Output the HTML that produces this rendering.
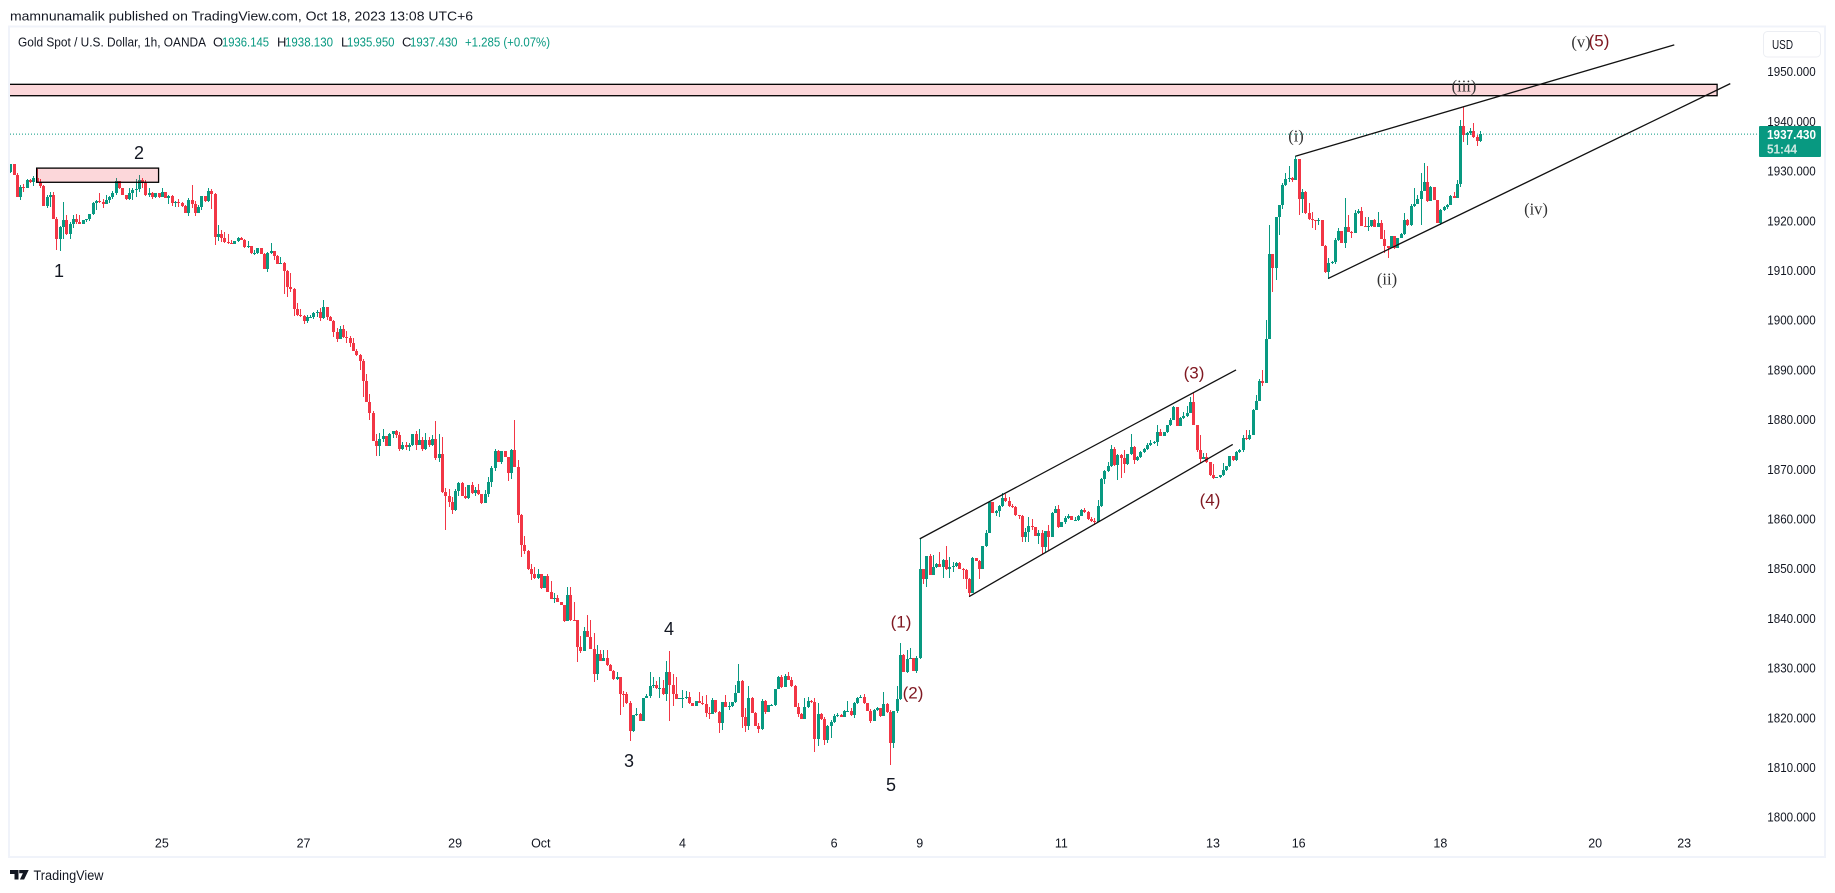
<!DOCTYPE html>
<html lang="en">
<head>
<meta charset="utf-8">
<title>Gold Spot / U.S. Dollar, 1h, OANDA</title>
<style>
html,body{margin:0;padding:0;background:#fff;width:1835px;height:893px;overflow:hidden}
svg{display:block;position:absolute;left:0;top:0}
text{font-family:"Liberation Sans",sans-serif;fill:#131722}
.wave{font-size:18px;text-anchor:middle;dominant-baseline:central;fill:#131722}
.red-wave{font-size:17px;text-anchor:middle;dominant-baseline:central;fill:#801922;font-family:"Liberation Sans",sans-serif}
.roman{font-size:16.5px;text-anchor:middle;dominant-baseline:central;fill:#333;font-family:"Liberation Serif",serif}
.legend{font-size:13px;dominant-baseline:central}
.up{fill:#089981}
</style>
</head>
<body>
<svg id="chart" xmlns="http://www.w3.org/2000/svg" width="1835" height="893" viewBox="0 0 1835 893">
  <defs>
    <clipPath id="pane"><rect x="10" y="27" width="1748" height="830"/></clipPath>
  </defs>
  <text x="10" y="16" font-size="13" dominant-baseline="central" textLength="463" lengthAdjust="spacingAndGlyphs" fill="#131722">mamnunamalik published on TradingView.com, Oct 18, 2023 13:08 UTC+6</text>
  <rect x="9" y="26.5" width="1816" height="830.5" fill="none" stroke="#f0f3fa" stroke-width="2"/>

  <line id="priceLine" x1="10" x2="1759" stroke="#089981" stroke-width="1" stroke-dasharray="1 2"/>
  <g id="candles" shape-rendering="crispEdges" clip-path="url(#pane)"></g>
  <g id="drawings" clip-path="url(#pane)"></g>

  <g>
    <text class="legend" x="18" y="42" textLength="188" lengthAdjust="spacingAndGlyphs">Gold Spot / U.S. Dollar, 1h, OANDA</text>
    <text class="legend" x="213" y="42">O</text>
    <text class="legend up" x="222" y="42" textLength="47" lengthAdjust="spacingAndGlyphs">1936.145</text>
    <text class="legend" x="277" y="42">H</text>
    <text class="legend up" x="285" y="42" textLength="48" lengthAdjust="spacingAndGlyphs">1938.130</text>
    <text class="legend" x="341" y="42">L</text>
    <text class="legend up" x="347" y="42" textLength="47.5" lengthAdjust="spacingAndGlyphs">1935.950</text>
    <text class="legend" x="402" y="42">C</text>
    <text class="legend up" x="410" y="42" textLength="47.5" lengthAdjust="spacingAndGlyphs">1937.430</text>
    <text class="legend up" x="465" y="42" textLength="85" lengthAdjust="spacingAndGlyphs">+1.285 (+0.07%)</text>
  </g>

  <g>
    <text class="wave" x="59" y="271">1</text>
    <text class="wave" x="139" y="153">2</text>
    <text class="wave" x="629" y="761">3</text>
    <text class="wave" x="669" y="629">4</text>
    <text class="wave" x="891" y="785">5</text>
    <text class="red-wave" x="901" y="622">(1)</text>
    <text class="red-wave" x="913" y="693">(2)</text>
    <text class="red-wave" x="1194" y="373">(3)</text>
    <text class="red-wave" x="1210" y="500">(4)</text>
    <text class="red-wave" x="1599" y="41">(5)</text>
    <text class="roman" x="1296" y="136">(i)</text>
    <text class="roman" x="1387" y="279">(ii)</text>
    <text class="roman" x="1464" y="86">(iii)</text>
    <text class="roman" x="1536" y="209">(iv)</text>
    <text class="roman" x="1581" y="42">(v)</text>
  </g>

  <g id="priceAxis"></g>
  <g id="timeAxis"></g>

  <g>
    <rect x="1763.5" y="31.5" width="57" height="25.5" rx="4" fill="#fff" stroke="#eceef3" stroke-width="1"/>
    <text x="1772" y="44.5" font-size="13" dominant-baseline="central" textLength="21" lengthAdjust="spacingAndGlyphs">USD</text>
  </g>
  <g>
    <rect x="1759" y="126" width="62" height="31" rx="1" fill="#089981"/>
    <text x="1767" y="134.5" font-size="13" font-weight="bold" dominant-baseline="central" textLength="49" lengthAdjust="spacingAndGlyphs" style="fill:#fff">1937.430</text>
    <text x="1767" y="149" font-size="13" font-weight="bold" dominant-baseline="central" textLength="30" lengthAdjust="spacingAndGlyphs" style="fill:#cfe9e3">51:44</text>
  </g>

  <g>
    <path d="M10 870h8.5v9.5h-4v-5.5h-4.5zM19.2 870h9.5l-4.6 9.5h-4.2l3-6.2h-3.7z" fill="#131722"/>
    <text x="33.5" y="875.5" font-size="13.5" dominant-baseline="central" textLength="70" lengthAdjust="spacingAndGlyphs" fill="#333">TradingView</text>
  </g>
</svg>
<script>
const firstOpen = 1929.9;
const closes = [
1931.5,1929.2,1924.8,1926.8,1926.7,1928.3,1927.8,1928.7,1927.9,1927.0,
1923.0,1924.8,1925.1,1920.4,1916.3,1918.8,1920.1,1917.3,1919.4,1920.4,
1919.8,1919.4,1920.1,1920.3,1921.3,1923.6,1923.9,1923.7,1923.4,1924.1,
1924.7,1925.6,1928,1926.6,1925.1,1924.3,1925.5,1926.1,1926.3,1928.2,
1927.7,1925.1,1925.5,1924.8,1925.5,1924.8,1925.8,1924.6,1925,1923.6,
1923.8,1923.6,1922.9,1921.6,1924.1,1923.3,1921.6,1922.7,1925,1924,
1926,1925.3,1916.8,1917.4,1916.6,1915.8,1915.6,1915.3,1915.9,1916.6,
1916.2,1914.7,1914.9,1913.5,1913.5,1914.6,1913.4,1910.3,1913.5,1913.9,
1912.9,1911.4,1911.6,1910,1906.7,1906.3,1902.2,1901,1900.8,1899.8,
1900.6,1900.7,1901.5,1901.6,1900.5,1902.7,1900.7,1899.8,1897.7,1896.2,
1898.2,1896.7,1896.4,1895.5,1893.9,1892.9,1891.7,1887.8,1883.6,1881.4,
1875.7,1874.7,1876,1876.7,1874.7,1877.1,1877.7,1876.9,1874.1,1874.9,
1874.5,1874.9,1877.1,1874.9,1875.9,1874.1,1875.9,1874.9,1876.1,1872.3,
1873.1,1865.4,1864.7,1863.5,1861.8,1865.6,1867.2,1864.7,1864.3,1866.8,
1865.2,1865.8,1865,1863.3,1865,1867.4,1870.3,1873.6,1871.5,1873.6,
1872.4,1869.3,1873.9,1870.5,1860.8,1854.8,1853.6,1849.9,1848.9,1848.2,
1848.9,1846.1,1848.5,1845.4,1844,1844.2,1843.4,1842.6,1839.5,1844.7,
1839.7,1839.6,1834.2,1833.5,1837.5,1836.3,1833.9,1828.8,1832.8,1831.5,
1832,1830.6,1829.5,1827.8,1828.3,1824.8,1824.7,1822.9,1817.4,1820.5,
1820.8,1819.3,1824,1824.4,1826.4,1826.5,1825.9,1825.9,1824.7,1829.2,
1826.6,1824.8,1823.8,1823.9,1824,1824.2,1822.9,1822.4,1823.4,1823,
1822.7,1820.9,1820.8,1823.6,1821.2,1819,1823.1,1822.2,1822.3,1823.1,
1825,1827.4,1820.2,1818.4,1823.9,1821,1818.4,1817.7,1823.4,1821.2,
1822.6,1822.6,1825.8,1828.2,1826.1,1828.4,1827.7,1826.3,1822.2,1820.8,
1819.7,1822.1,1823.4,1823.1,1815.7,1820.8,1819.7,1815.5,1818.3,1819.1,
1820.3,1820.5,1820.2,1821.4,1821.4,1820.5,1822.9,1823.9,1824.2,1822.9,
1821.4,1819.3,1821.6,1821.9,1820.3,1822.8,1821.1,1815,1821.4,1823.7,
1832.6,1829.3,1831.8,1832,1829.5,1832,1849.9,1848,1852.5,1848.7,
1850.4,1851,1850.4,1851.8,1850,1850.4,1850.5,1851.2,1850,1849.8,
1848,1845.2,1852.2,1851.6,1850,1854.5,1857.1,1863.5,1861.2,1861.6,
1862.7,1864.3,1863.6,1862.7,1862.4,1860.8,1860.6,1856.4,1857.4,1858.6,
1858.3,1856.6,1857.2,1854.4,1857.6,1856.3,1861.3,1862.1,1858.4,1859.3,
1860.2,1860.6,1859.8,1859.8,1860.7,1861.8,1861.4,1859.9,1859.6,1859.4,
1862.6,1868,1869.6,1870.7,1874.1,1870.8,1872.9,1872.2,1871,1873,
1874.5,1871.8,1872.5,1873.5,1874,1874.9,1875.3,1875.5,1877.5,1876.7,
1877.5,1878.9,1880,1882.6,1878.8,1880.4,1880.8,1881.4,1883.5,1879,
1873.9,1872,1872.4,1871.4,1868.8,1868.3,1868.4,1868.8,1869.8,1870.6,
1872.6,1871.8,1873.5,1873.9,1876.2,1876,1877,1882,1883.8,1887.7,
1887.4,1896.3,1913.3,1910.6,1920.8,1923.1,1927.2,1928.4,1928.7,1928.2,
1932.4,1924.3,1925.7,1921.5,1920.3,1920.1,1920,1920.2,1915,1909.6,
1911.5,1911.7,1916.2,1918,1915.6,1918.8,1917.8,1917.6,1921.5,1922,
1919,1918.8,1918.9,1920.2,1918.8,1919.6,1916.4,1914.9,1914.5,1917,
1914.5,1916.6,1917.4,1920.2,1919.2,1923,1923.4,1924.3,1926,1927.9,
1923.9,1926.9,1924.2,1919.6,1922.2,1922.7,1923.2,1925,1924.6,1927.4,
1939,1937.2,1937.7,1938,1936.8,1936.1,1937.43];
const highs = [
1931.5,1931.3,1929.7,1927.2,1927.5,1928.4,1928.5,1929,1930.5,1928.4,
1927.2,1925.1,1925.8,1925.8,1920.8,1918.9,1923.8,1921.1,1919.8,1921.1,
1921.3,1921.1,1920.2,1920.4,1921.4,1923.8,1924.1,1925.6,1924.3,1925.1,
1925,1926,1928.7,1928,1926.7,1925.2,1926.7,1926.6,1928.4,1929.2,
1928.7,1928.2,1926.5,1925.8,1925.6,1925.5,1926.5,1925.8,1925.2,1925.2,
1924,1924.4,1923.7,1923.1,1924.6,1927.2,1924,1923.2,1925,1925,
1926.7,1926.4,1925.5,1919.1,1918.2,1917.8,1917.3,1916.2,1916,1916.7,
1916.7,1916.4,1915.9,1915,1914.2,1914.6,1914.6,1913.5,1913.8,1915.6,
1913.9,1913.2,1912.7,1911.7,1910.2,1909.4,1906.4,1903.5,1902.3,1901,
1901,1901,1901.6,1902,1902.4,1904.1,1902.7,1900.9,1900,1898.4,
1898.8,1899,1897.8,1896.8,1896.4,1894.2,1893.2,1892.2,1889.2,1885.2,
1881.7,1877.2,1877.4,1878.2,1876.8,1877.4,1877.7,1877.9,1877.5,1875.4,
1875.4,1875.2,1877.2,1877.7,1878.2,1876.4,1877.4,1876.4,1876.9,1879.8,
1877.2,1876.5,1866.2,1866,1864.4,1866,1867.4,1867.4,1866.5,1866.8,
1867.4,1866.4,1867,1865,1865.8,1868.5,1870.7,1874.1,1873.9,1873.7,
1873.6,1872.5,1874.1,1879.9,1871.9,1861.1,1856.6,1853.7,1851,1850.3,
1849.9,1848.9,1848.5,1849,1847.6,1845.2,1844.7,1843.4,1842.7,1846.3,
1846.3,1843.4,1839.7,1836.5,1838.3,1840.7,1839.7,1837,1834.6,1833.6,
1833.6,1833.6,1830.8,1829.6,1829.3,1828.1,1825.4,1825.2,1823.3,1820.5,
1821.9,1821,1824,1824.7,1829.3,1828.3,1827.5,1828.3,1827.6,1831.4,
1833.5,1828.8,1828.3,1824,1825.6,1825.4,1825.2,1823,1823.4,1825.2,
1824.4,1824.6,1822.2,1823.9,1823.6,1821.4,1823.2,1824.6,1823.2,1823.2,
1826.6,1830.8,1827.6,1821.9,1826.4,1824.1,1821.2,1818.9,1823.7,1823.6,
1822.6,1822.7,1825.8,1828.4,1828.6,1828.8,1829.2,1828.3,1826.7,1822.9,
1820.9,1823.9,1824.2,1823.6,1823.9,1823,1821,1820.2,1818.5,1819.5,
1820.8,1820.9,1820.7,1821.6,1823.4,1821.9,1823.2,1824.2,1824.6,1824.8,
1823,1821.7,1821.8,1822.2,1822,1825.2,1822.9,1821.6,1821.4,1826.3,
1835,1832.8,1833.6,1834,1832,1832.4,1856,1849.9,1852.5,1852.9,
1852.7,1851.2,1853.4,1852,1854.6,1852.4,1851.4,1851.3,1851.3,1850.2,
1850,1848.1,1852.4,1852.1,1851.8,1854.5,1857.8,1863.5,1863.5,1861.8,
1862.8,1865.3,1865.1,1864.5,1863,1862.6,1860.9,1860.8,1858.1,1860.4,
1860.1,1858.4,1857.8,1857.8,1857.6,1858.8,1861.4,1862.6,1862.8,1859.4,
1860.6,1861,1860.7,1860.5,1860.8,1862.1,1862.3,1861.6,1860.4,1860.2,
1863.9,1868.2,1869.8,1871.5,1874.9,1874.5,1873,1873,1873.9,1873.1,
1877.2,1874.7,1872.6,1873.6,1874.2,1875.2,1875.9,1875.7,1878.9,1878.2,
1877.6,1879,1880.3,1882.7,1882.6,1880.6,1881.6,1882.7,1884.5,1885.3,
1879,1876.9,1873.3,1873.2,1871.5,1871,1868.5,1868.9,1871.2,1870.7,
1872.7,1872.7,1873.6,1874.1,1876.9,1878,1878,1882.1,1884.9,1888.1,
1890,1900,1919.1,1913.3,1920.8,1923.1,1927.6,1929.7,1931,1928.9,
1933,1932.4,1926.4,1926,1923.5,1921.8,1920.2,1920.6,1920,1915.1,
1912.5,1912,1916.6,1918.5,1918,1924.5,1921.2,1918,1922.2,1922.3,
1922.7,1920.7,1920.7,1920.2,1920.3,1921.7,1920.2,1918.2,1915,1917,
1917,1916.6,1917.5,1921.5,1920.3,1923.4,1926.6,1925.2,1929.7,1931.7,
1931.1,1927,1926.9,1924.2,1922.3,1922.9,1923.3,1925.2,1925.7,1928.2,
1940.2,1942.9,1937.8,1938.6,1939.7,1937.2,1938.13];
const lows = [
1929.6,1929.2,1924.7,1924.1,1925.8,1926.7,1927.7,1927,1927.8,1926.5,
1923,1922.6,1922.8,1920.3,1914.1,1913.9,1916.3,1917.1,1916.3,1918.6,
1919.4,1919.3,1919.3,1919.8,1920,1921.1,1922.1,1923.5,1922.5,1923.3,
1923.5,1924.4,1925.1,1926.3,1925.1,1924.2,1924.2,1924.1,1924.7,1925.8,
1926.5,1925,1924.8,1924.3,1924.5,1924.6,1925.2,1924.6,1923.3,1922.9,
1922.8,1922.8,1922.8,1921.6,1921,1922.6,1921,1921.6,1922.1,1923.8,
1923.8,1922.3,1915.2,1916,1915.8,1915.6,1915.3,1915.3,1915.3,1915.8,
1916.1,1914.6,1914.6,1913.3,1913.1,1913.3,1913.3,1910.3,1909.7,1913.3,
1912.1,1911.4,1911.4,1905.2,1904.7,1905.7,1900.9,1900.9,1900.7,1899.2,
1899.4,1900.5,1900.3,1900.6,1899.9,1900.2,1900,1899.8,1896.7,1895.7,
1896.2,1896.4,1895.4,1894.7,1893.8,1892.7,1890,1884.6,1883.5,1879.9,
1875.6,1872.7,1872.7,1875.4,1874.7,1874.7,1876.2,1876.2,1873.7,1873.9,
1873.9,1873.7,1874.7,1873.9,1874.9,1873.7,1873.9,1874.5,1874.7,1871.9,
1871.5,1865.3,1857.8,1862.5,1861,1861.6,1864.6,1864.6,1864,1864.1,
1865,1864.6,1864.8,1863,1863.3,1864.5,1866.5,1869.7,1871.5,1871,
1872.4,1867.6,1868,1870.4,1859.2,1852.4,1853,1849.7,1847.7,1848,
1847.9,1845.9,1846.6,1845.3,1843.9,1843,1843.3,1842.6,1839.3,1839.5,
1839.5,1839.5,1831.3,1833,1833.5,1836.2,1833.8,1827.3,1827.6,1831.4,
1831.5,1830.5,1829.4,1827.7,1827.7,1820.5,1822.2,1822.8,1815.3,1817.1,
1820.4,1819.3,1819.3,1823.9,1823.9,1825.9,1825.8,1823.9,1824.6,1823.4,
1819.4,1822.4,1823.7,1823.8,1822,1823.8,1822.8,1822.4,1822.4,1822.9,
1822.6,1820.2,1819.7,1820.8,1821,1817,1817.5,1822.1,1821.6,1822.2,
1822.9,1825,1818,1817.2,1817.5,1820.9,1818.4,1816.9,1817.5,1820.8,
1821.2,1822.4,1822.4,1825.7,1826,1826.1,1827.6,1826.2,1822.1,1820.1,
1819.7,1819.7,1822,1823,1813.2,1814.3,1819.6,1814.5,1815,1815.9,
1818.9,1820.2,1820.1,1820.2,1821.3,1820.4,1819.9,1822.8,1823.9,1822.8,
1821.3,1818.9,1819.3,1821.4,1820.2,1820.3,1821,1810.6,1814,1820.9,
1823.6,1829.2,1829.1,1831.8,1829.4,1829.1,1831.8,1847,1846.3,1848.7,
1848.7,1850.2,1850.3,1848.2,1849.8,1848.2,1849.4,1850.3,1850,1848,
1846,1844.3,1845.2,1851.5,1848,1850,1854.4,1857.1,1861.2,1860.6,
1860.4,1862.4,1863.5,1862.5,1862.3,1860.7,1860.1,1855.4,1855.4,1855.4,
1857.8,1856.5,1855,1853,1853.3,1853.7,1856.3,1861.2,1858.2,1858.3,
1859,1860.1,1859.7,1859.5,1859.6,1860.6,1861.3,1859.7,1859.4,1858.8,
1859.4,1862.4,1867,1869.4,1870.5,1870.7,1867.8,1868.2,1869.2,1870.9,
1872.8,1871,1871.7,1872.3,1873.3,1873.8,1874.6,1875.1,1874.7,1876.6,
1876.6,1877.3,1878.7,1879.9,1878.7,1878.7,1880.2,1880.6,1881.3,1879,
1873.5,1871.3,1872,1871.3,1868.7,1868.1,1868.2,1868.2,1868.7,1869.7,
1870.5,1871.7,1871.7,1873.3,1873.4,1875.9,1875.9,1877,1881.9,1883.7,
1886.7,1887.4,1896.2,1905.7,1908,1917.1,1922.3,1927,1927.8,1927.8,
1928.2,1921.1,1921.5,1921.4,1920.2,1918.6,1918.1,1919.1,1914.9,1909.5,
1908.3,1911.4,1911.4,1916,1915.5,1914.6,1917.7,1916.5,1917.8,1921.4,
1919,1918.7,1918,1918.8,1918.7,1918.8,1916.3,1913.5,1912.6,1914.5,
1914.4,1914.5,1916.5,1917.2,1919,1919,1922.7,1923.4,1919.2,1925.9,
1923.8,1924.1,1924.1,1919.5,1919.2,1922,1922.3,1923.1,1924.5,1924.6,
1926.8,1935.9,1935.2,1937.2,1936.7,1935,1935.95];
const opens = closes.map(function (c, i) { return i === 0 ? firstOpen : closes[i - 1]; });
const lastPrice = 1937.43;
const priceTicks = [1950,1940,1930,1920,1910,1900,1890,1880,1870,1860,1850,1840,1830,1820,1810,1800];
const timeTickLabels = ["25","27","29","Oct","4","6","9","11","13","16","18","20","23"];
const timeTickBars = [46,89,135,161,204,250,276,319,365,391,434,481,508];
const trendBars = [[276,372],[291,371],[390,505],[400,522]];
const trendPrices = [[1856,1890],[1844.4,1875],[1933,1955.4],[1908.4,1947.6]];
const trendNames = ["channel-upper-line","channel-lower-line","wedge-upper-line","wedge-lower-line"];
const zoneBars = [[-3,518],[8,45]];
const zonePrices = [[1947.46,1945.17],[1930.6,1927.75]];
const zoneNames = ["resistance-zone","supply-zone"];

const NS = "http://www.w3.org/2000/svg";
function xOf(bar) { return 10.3 + 3.295 * bar; }
function yOf(price) { return 71.7 + (1950 - price) * 4.97; }
function make(tag, parent) {
  const el = document.createElementNS(NS, tag);
  parent.appendChild(el);
  return el;
}

const candleLayer = document.getElementById("candles");
closes.forEach(function (close, i) {
  const open = opens[i];
  const color = close >= open ? "#089981" : "#f23645";
  const cx = Math.round(xOf(i));
  const group = make("g", candleLayer);
  
  
  group.setAttribute("fill", color);
  const wick = make("rect", group);
  
  
  const hi = Math.round(yOf(Math.max(highs[i], open, close)));
  const lo = Math.round(yOf(Math.min(lows[i], open, close)));
  wick.setAttribute("x", cx);
  wick.setAttribute("y", hi);
  wick.setAttribute("width", 1);
  wick.setAttribute("height", Math.max(1, lo - hi));
  const body = make("rect", group);
  
  
  const top = Math.round(yOf(Math.max(open, close)));
  const bottom = Math.round(yOf(Math.min(open, close)));
  body.setAttribute("x", cx - 1);
  body.setAttribute("y", top);
  body.setAttribute("width", 3);
  body.setAttribute("height", Math.max(1, bottom - top));
});

const priceLine = document.getElementById("priceLine");
priceLine.setAttribute("y1", yOf(lastPrice));
priceLine.setAttribute("y2", yOf(lastPrice));

const drawingLayer = document.getElementById("drawings");
zoneBars.forEach(function (bars, i) {
  const zone = make("rect", drawingLayer);
  
  
  zone.setAttribute("x", xOf(bars[0]));
  zone.setAttribute("y", yOf(zonePrices[i][0]));
  zone.setAttribute("width", xOf(bars[1]) - xOf(bars[0]));
  zone.setAttribute("height", yOf(zonePrices[i][1]) - yOf(zonePrices[i][0]));
  zone.setAttribute("fill", "rgba(242,54,69,0.2)");
  zone.setAttribute("stroke", "#000");
  zone.setAttribute("stroke-width", "1.3");
});
trendBars.forEach(function (bars, i) {
  const line = make("line", drawingLayer);
  
  
  line.setAttribute("x1", xOf(bars[0]));
  line.setAttribute("x2", xOf(bars[1]));
  line.setAttribute("y1", yOf(trendPrices[i][0]));
  line.setAttribute("y2", yOf(trendPrices[i][1]));
  line.setAttribute("stroke", "#111");
  line.setAttribute("stroke-width", "1.3");
});

const priceAxis = document.getElementById("priceAxis");
priceTicks.forEach(function (tick) {
  const label = make("text", priceAxis);
  
  
  label.setAttribute("x", 1767.3);
  label.setAttribute("y", yOf(tick));
  label.setAttribute("font-size", "13");
  label.setAttribute("dominant-baseline", "central");
  label.setAttribute("textLength", "48.4");
  label.setAttribute("lengthAdjust", "spacingAndGlyphs");
  label.textContent = tick.toFixed(3);
});

const timeAxis = document.getElementById("timeAxis");
timeTickLabels.forEach(function (text, i) {
  const label = make("text", timeAxis);
  
  
  label.setAttribute("x", xOf(timeTickBars[i]));
  label.setAttribute("y", 843.5);
  label.setAttribute("font-size", "12.5");
  label.setAttribute("text-anchor", "middle");
  label.setAttribute("dominant-baseline", "central");
  label.textContent = text;
});
</script>
</body>
</html>
